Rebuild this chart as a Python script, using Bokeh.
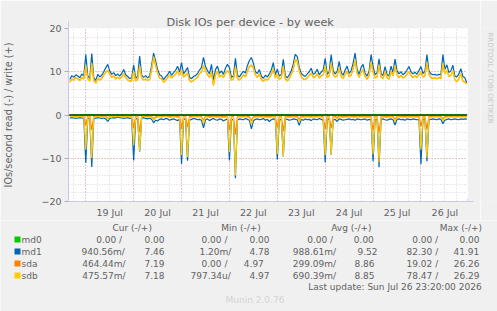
import math
import pandas as pd
from bokeh.plotting import figure
from bokeh.layouts import column, row
from bokeh.models import Range1d, FixedTicker, DatetimeTickFormatter, Span, Arrow, NormalHead
from bokeh.embed import file_html
from bokeh.resources import INLINE
from bokeh.core.properties import value

FONT = "DejaVu Sans"
TEXT = "#626262"
AXIS = "#C8C8EC"

# hourly samples from Jul 18 16:00 to Jul 26 23:00 (200 points)
times = pd.date_range("2026-07-18 16:00", periods=200, freq="h")

# writes (+), IOs/second
md1_write = (
    [8.2, 9.1, 8.7, 9.3, 9.0, 8.6, 9.5, 9.0]
    + [14.0, 9.0, 8.5, 14.2, 8.6, 8.0, 9.4, 8.8, 9.2, 10.0, 10.9, 11.7, 10.2, 9.4, 9.8, 9.1, 9.5, 9.0, 9.6, 10.5, 9.3, 8.9, 8.4, 8.6]
    + [11.6, 8.5, 9.0, 13.6, 9.2, 8.7, 9.1, 8.6, 9.0, 11.5, 14.3, 12.5, 10.5, 9.3, 9.0, 8.2, 8.8, 9.3, 10.1, 9.2, 9.8, 10.3, 11.3, 9.9]
    + [12.1, 9.5, 10.2, 11.0, 8.7, 8.4, 8.9, 9.1, 9.6, 10.4, 11.0, 13.3, 11.2, 10.3, 9.5, 11.7, 8.0, 10.5, 11.3, 9.6, 10.2, 9.4, 10.8, 11.7]
    + [11.0, 8.7, 9.0, 13.1, 9.2, 8.8, 9.5, 10.1, 9.7, 11.4, 12.6, 13.3, 12.0, 10.0, 9.6, 10.5, 9.0, 8.5, 9.2, 8.8, 9.5, 10.4, 12.1, 9.3]
    + [10.6, 9.0, 9.4, 12.9, 9.1, 8.6, 9.3, 10.2, 11.8, 14.0, 13.5, 11.0, 9.6, 9.2, 8.9, 9.5, 10.0, 10.8, 9.4, 9.7, 10.6, 9.3, 9.9, 10.4]
    + [13.1, 9.4, 10.0, 14.0, 10.3, 9.5, 10.1, 12.4, 9.8, 9.2, 10.4, 11.3, 9.6, 10.2, 12.0, 14.3, 10.5, 9.4, 11.0, 11.7, 9.6, 9.0, 10.1, 14.0]
    + [11.2, 9.3, 9.8, 13.0, 9.6, 9.1, 11.2, 9.4, 9.0, 11.3, 9.8, 12.9, 10.2, 9.5, 10.0, 9.3, 9.7, 10.4, 11.2, 10.0, 9.5, 9.9, 9.4, 10.3]
    + [11.2, 9.6, 10.1, 14.0, 10.2, 9.5, 9.3, 9.4, 9.2, 9.4, 9.3, 14.0, 10.5, 11.6, 9.8, 10.2, 11.5, 9.0, 8.8, 9.5, 10.7, 8.9, 8.6, 7.46]
)
sdb_write = (
    [7.5, 8.4, 8.0, 8.7, 8.3, 7.9, 8.8, 8.4]
    + [11.5, 8.3, 7.8, 12.0, 7.9, 7.3, 8.6, 8.0, 8.5, 9.2, 9.9, 10.4, 9.4, 8.7, 9.0, 8.4, 8.8, 8.3, 8.9, 9.6, 8.6, 8.2, 7.7, 7.9]
    + [10.2, 7.8, 8.3, 11.4, 8.5, 8.0, 8.4, 7.9, 8.3, 10.6, 13.5, 11.6, 9.7, 8.6, 8.3, 7.5, 8.1, 8.6, 9.3, 8.5, 9.0, 9.5, 10.2, 9.1]
    + [10.5, 8.7, 9.3, 9.8, 7.9, 7.6, 8.1, 8.3, 8.8, 9.5, 10.0, 11.5, 10.2, 9.4, 8.6, 10.0, 6.8, 9.4, 10.2, 8.7, 9.3, 8.6, 9.7, 10.3]
    + [9.8, 8.0, 8.3, 11.2, 8.4, 8.0, 8.7, 9.2, 8.9, 10.2, 11.3, 11.6, 11.0, 9.2, 8.8, 9.6, 8.2, 7.7, 8.4, 8.0, 8.7, 9.5, 10.8, 8.5]
    + [9.5, 8.2, 8.6, 11.3, 8.3, 7.8, 8.5, 9.3, 10.7, 12.9, 12.6, 10.1, 8.8, 8.4, 8.1, 8.7, 9.1, 9.8, 8.6, 8.9, 9.6, 8.5, 9.0, 9.4]
    + [11.4, 8.6, 9.1, 12.0, 9.4, 8.7, 9.2, 11.0, 8.9, 8.4, 9.5, 10.2, 8.8, 9.3, 10.8, 12.8, 9.6, 8.6, 10.0, 10.5, 8.8, 8.2, 9.2, 12.3]
    + [10.0, 8.5, 8.9, 11.6, 8.8, 8.3, 10.1, 8.6, 8.2, 10.2, 9.0, 11.4, 9.3, 8.7, 9.1, 8.5, 8.9, 9.5, 10.1, 9.1, 8.7, 9.0, 8.6, 9.4]
    + [10.0, 8.7, 9.2, 12.2, 9.3, 8.6, 8.5, 8.6, 8.4, 8.6, 8.5, 12.0, 9.5, 10.4, 8.9, 9.2, 10.3, 8.1, 7.6, 8.5, 9.6, 7.8, 7.5, 7.18]
)
sda_write = (
    [7.6, 8.3, 8.1, 8.6, 8.4, 8.0, 8.7, 8.3]
    + [11.3, 8.4, 7.9, 11.8, 8.0, 7.4, 8.5, 8.1, 8.4, 9.3, 9.8, 10.3, 9.5, 8.6, 9.1, 8.3, 8.7, 8.4, 8.8, 9.5, 8.7, 8.1, 7.8, 8.0]
    + [10.0, 7.9, 8.2, 11.2, 8.6, 8.1, 8.3, 8.0, 8.2, 10.5, 13.3, 11.5, 9.8, 8.5, 8.4, 7.6, 8.0, 8.7, 9.2, 8.6, 9.1, 9.4, 10.1, 9.2]
    + [10.3, 8.8, 9.2, 9.7, 8.0, 7.7, 8.0, 8.4, 8.7, 9.6, 9.9, 11.3, 10.3, 9.3, 8.7, 9.8, 6.9, 9.3, 10.1, 8.8, 9.2, 8.7, 9.6, 10.2]
    + [9.7, 8.1, 8.2, 11.0, 8.5, 8.1, 8.6, 9.3, 8.8, 10.1, 11.2, 11.5, 10.9, 9.3, 8.7, 9.5, 8.3, 7.8, 8.3, 8.1, 8.6, 9.4, 10.6, 8.6]
    + [9.4, 8.3, 8.5, 11.1, 8.4, 7.9, 8.4, 9.4, 10.6, 12.7, 12.4, 10.2, 8.9, 8.3, 8.2, 8.6, 9.2, 9.7, 8.7, 8.8, 9.5, 8.6, 9.1, 9.3]
    + [11.2, 8.7, 9.0, 11.8, 9.5, 8.8, 9.1, 10.8, 9.0, 8.5, 9.4, 10.1, 8.9, 9.2, 10.7, 12.6, 9.7, 8.7, 9.9, 10.4, 8.9, 8.3, 9.1, 12.1]
    + [9.9, 8.6, 8.8, 11.4, 8.9, 8.4, 10.0, 8.7, 8.3, 10.1, 9.1, 11.2, 9.4, 8.6, 9.2, 8.6, 8.8, 9.4, 10.0, 9.2, 8.6, 9.1, 8.7, 9.3]
    + [9.9, 8.8, 9.1, 12.0, 9.4, 8.7, 8.4, 8.7, 8.3, 8.7, 8.4, 11.8, 9.6, 10.3, 9.0, 9.1, 10.2, 8.2, 7.7, 8.4, 9.5, 7.9, 7.6, 7.19]
)

# reads (-), IOs/second, drawn below zero
md1_read = (
    [0.7, 0.6, 0.7, 0.8, 0.7, 0.6, 0.7, 0.8]
    + [11.1, 0.8, 0.7, 12.0, 0.9, 0.7, 0.6, 0.7, 0.8, 0.7, 0.9, 1.5, 0.8, 0.7, 0.6, 0.7, 0.5, 0.6, 0.7, 0.8, 0.7, 0.6, 0.8, 0.7]
    + [10.5, 0.9, 0.8, 8.5, 0.7, 0.6, 0.8, 0.9, 0.7, 1.0, 1.8, 1.2, 1.4, 1.0, 0.9, 1.1, 0.8, 0.9, 1.2, 1.0, 0.9, 1.1, 1.3, 1.0]
    + [11.3, 1.0, 0.9, 10.6, 1.2, 1.0, 0.8, 0.9, 1.1, 1.0, 1.2, 3.0, 1.1, 0.9, 1.3, 1.0, 0.8, 1.1, 1.2, 0.9, 1.0, 1.4, 1.1, 0.9]
    + [10.5, 1.0, 1.1, 14.6, 1.2, 0.9, 1.0, 1.1, 0.8, 1.0, 1.2, 3.2, 1.4, 1.0, 0.9, 1.1, 1.0, 0.8, 1.2, 1.0, 1.5, 1.1, 0.9, 1.0]
    + [10.3, 1.1, 1.0, 9.6, 0.9, 1.0, 1.2, 1.1, 0.9, 1.0, 1.1, 2.4, 1.0, 1.2, 0.9, 1.1, 1.0, 1.3, 0.9, 1.0, 1.1, 0.8, 1.0, 1.2]
    + [11.0, 1.0, 0.9, 9.2, 1.1, 1.0, 1.5, 0.9, 1.0, 1.2, 1.1, 1.0, 0.9, 1.1, 1.0, 1.2, 0.9, 1.0, 1.1, 1.0, 0.9, 1.2, 1.0, 1.1]
    + [10.7, 1.1, 1.0, 12.1, 1.0, 0.9, 1.1, 1.2, 1.0, 0.9, 1.1, 2.3, 1.0, 0.9, 1.1, 1.0, 1.2, 0.9, 1.0, 1.1, 0.9, 1.0, 1.1, 1.0]
    + [11.4, 1.0, 0.9, 10.7, 1.1, 1.0, 0.9, 1.0, 1.1, 0.9, 1.0, 2.0, 1.2, 1.0, 0.9, 1.1, 1.0, 0.9, 1.0, 1.1, 0.9, 1.0, 0.9, 0.94]
)
sdb_read = (
    [0.4, 0.3, 0.4, 0.5, 0.4, 0.3, 0.4, 0.4]
    + [8.0, 0.5, 0.4, 10.0, 0.5, 0.4, 0.3, 0.4, 0.5, 0.4, 0.5, 1.0, 0.4, 0.3, 0.4, 0.3, 0.4, 0.3, 0.4, 0.5, 0.4, 0.3, 0.4, 0.4]
    + [7.0, 0.5, 0.4, 8.4, 0.4, 0.3, 0.4, 0.5, 0.4, 0.5, 1.2, 0.6, 0.5, 0.4, 0.5, 0.4, 0.3, 0.4, 0.6, 0.5, 0.4, 0.5, 0.6, 0.4]
    + [9.3, 0.5, 0.4, 9.7, 0.6, 0.5, 0.4, 0.4, 0.5, 0.4, 0.6, 2.0, 0.5, 0.4, 0.6, 0.5, 0.4, 0.5, 0.6, 0.4, 0.5, 0.7, 0.5, 0.4]
    + [8.6, 0.5, 0.5, 14.0, 0.6, 0.4, 0.5, 0.5, 0.4, 0.5, 0.6, 2.1, 0.7, 0.5, 0.4, 0.5, 0.5, 0.4, 0.6, 0.5, 0.7, 0.5, 0.4, 0.5]
    + [9.0, 0.5, 0.5, 9.6, 0.4, 0.5, 0.6, 0.5, 0.4, 0.5, 0.5, 1.6, 0.5, 0.6, 0.4, 0.5, 0.5, 0.6, 0.4, 0.5, 0.5, 0.4, 0.5, 0.6]
    + [9.3, 0.5, 0.4, 9.2, 0.5, 0.5, 1.0, 0.4, 0.5, 0.6, 0.5, 0.5, 0.4, 0.5, 0.5, 0.6, 0.4, 0.5, 0.5, 0.5, 0.4, 0.6, 0.5, 0.5]
    + [9.1, 0.5, 0.5, 11.0, 0.5, 0.4, 0.5, 0.6, 0.5, 0.4, 0.5, 1.5, 0.5, 0.4, 0.5, 0.5, 0.6, 0.4, 0.5, 0.5, 0.4, 0.5, 0.5, 0.5]
    + [8.0, 0.5, 0.4, 9.9, 0.5, 0.5, 0.4, 0.5, 0.5, 0.4, 0.5, 1.3, 0.6, 0.5, 0.4, 0.5, 0.5, 0.4, 0.5, 0.5, 0.4, 0.5, 0.4, 0.48]
)
sda_read = (
    [0.3, 0.2, 0.3, 0.3, 0.2, 0.3, 0.3, 0.2]
    + [2.4, 0.3, 0.2, 3.5, 0.3, 0.2, 0.3, 0.2, 0.3, 0.2, 0.3, 0.8, 0.3, 0.2, 0.3, 0.2, 0.3, 0.2, 0.3, 0.3, 0.2, 0.3, 0.2, 0.3]
    + [3.0, 0.3, 0.2, 4.0, 0.3, 0.2, 0.3, 0.3, 0.2, 0.3, 0.9, 0.4, 0.3, 0.2, 0.3, 0.3, 0.2, 0.3, 0.4, 0.3, 0.2, 0.3, 0.4, 0.3]
    + [3.2, 0.3, 0.3, 2.8, 0.4, 0.3, 0.2, 0.3, 0.3, 0.2, 0.4, 1.2, 0.3, 0.3, 0.4, 0.3, 0.2, 0.3, 0.4, 0.3, 0.3, 0.4, 0.3, 0.2]
    + [3.5, 0.3, 0.3, 4.5, 0.4, 0.3, 0.3, 0.3, 0.2, 0.3, 0.4, 1.3, 0.4, 0.3, 0.3, 0.3, 0.3, 0.2, 0.4, 0.3, 0.4, 0.3, 0.3, 0.3]
    + [2.9, 0.3, 0.3, 3.8, 0.3, 0.3, 0.4, 0.3, 0.3, 0.3, 0.3, 1.0, 0.3, 0.4, 0.3, 0.3, 0.3, 0.4, 0.3, 0.3, 0.3, 0.2, 0.3, 0.4]
    + [3.3, 0.3, 0.3, 3.1, 0.3, 0.3, 0.7, 0.3, 0.3, 0.4, 0.3, 0.3, 0.3, 0.3, 0.3, 0.4, 0.3, 0.3, 0.3, 0.3, 0.3, 0.4, 0.3, 0.3]
    + [3.6, 0.3, 0.3, 4.2, 0.3, 0.3, 0.3, 0.4, 0.3, 0.3, 0.3, 1.0, 0.3, 0.3, 0.3, 0.3, 0.4, 0.3, 0.3, 0.3, 0.3, 0.3, 0.3, 0.3]
    + [2.7, 0.3, 0.3, 3.4, 0.3, 0.3, 0.3, 0.3, 0.3, 0.3, 0.3, 0.9, 0.4, 0.3, 0.3, 0.3, 0.3, 0.3, 0.3, 0.3, 0.3, 0.3, 0.3, 0.46]
)
md0_write = [0.0] * len(times)
md0_read = [0.0] * len(times)

# legend table
names = ["md0", "md1", "sda", "sdb"]
colors = ["#00CC00", "#0066B3", "#FF8000", "#FFCC00"]
cur_read = ["0.00 /", "940.56m/", "464.44m/", "475.57m/"]
cur_write = ["0.00", "7.46", "7.19", "7.18"]
min_read = ["0.00 /", "1.20m/", "0.00 /", "797.34u/"]
min_write = ["0.00", "4.78", "4.97", "4.97"]
avg_read = ["0.00 /", "988.61m/", "299.09m/", "690.39m/"]
avg_write = ["0.00", "9.52", "8.86", "8.85"]
max_read = ["0.00 /", "82.30 /", "19.02 /", "78.47 /"]
max_write = ["0.00", "41.91", "26.26", "26.29"]
headers = ["Cur (-/+)", "Min (-/+)", "Avg (-/+)", "Max (-/+)"]

series = [
    (md0_read, md0_write, colors[0]),
    (md1_read, md1_write, colors[1]),
    (sda_read, sda_write, colors[2]),
    (sdb_read, sdb_write, colors[3]),
]

t_start = pd.Timestamp("2026-07-18 15:20")
t_end = pd.Timestamp("2026-07-26 23:20")
ms = lambda t: pd.Timestamp(t).value / 1e6
noons = [ms(f"2026-07-{d} 12:00") for d in range(19, 27)]
midnights = [ms(f"2026-07-{d} 00:00") for d in range(19, 27)]
quarters = [ms(t) for t in pd.date_range("2026-07-18 18:00", "2026-07-26 18:00", freq="6h")]

CH = 220  # chart height in pixels
p = figure(width=480, height=CH, x_axis_type="datetime",
           x_range=Range1d(t_start, t_end), y_range=Range1d(-20, 20),
           output_backend="svg", toolbar_location=None,
           min_border_left=67, min_border_right=13, min_border_top=28, min_border_bottom=CH - 203)
p.border_fill_color = "#F0F0F0"
p.background_fill_color = "white"
p.outline_line_color = None

p.title.text = "Disk IOs per device - by week"
p.title.text_font = FONT
p.title.text_font_size = "11.3px"
p.title.text_font_style = "normal"
p.title.text_color = TEXT
p.title.align = "left"
p.title.offset = 98
p.title.standoff = 0

# axes
p.xaxis.ticker = FixedTicker(ticks=noons)
p.xaxis.formatter = DatetimeTickFormatter(days="%d %b", hours="%d %b", months="%d %b", minutes="%d %b")
p.yaxis.ticker = FixedTicker(ticks=[-20, -10, 0, 10, 20], minor_ticks=list(range(-20, 21, 2)))
for ax in (p.xaxis[0], p.yaxis[0]):
    ax.axis_line_color = AXIS
    ax.major_label_text_font = FONT
    ax.major_label_text_font_size = "9.5px"
    ax.major_label_text_color = TEXT
    ax.minor_tick_line_color = None
    ax.major_tick_in = 0
p.xaxis.major_tick_out = 0
p.xaxis.major_label_standoff = 5
p.yaxis.major_tick_out = 4
p.yaxis.major_tick_line_color = "#B0B0B0"
p.yaxis.major_label_standoff = 3
p.yaxis.axis_label = "IOs/second read (-) / write (+)"
p.yaxis.axis_label_text_font = FONT
p.yaxis.axis_label_text_font_size = "9.7px"
p.yaxis.axis_label_text_font_style = "normal"
p.yaxis.axis_label_text_color = TEXT
p.yaxis.axis_label_standoff = 24

# grid: days in red, 6 hours in grey; 10s in red, 2s in grey
p.xgrid.ticker = FixedTicker(ticks=midnights, minor_ticks=quarters)
for g in (p.xgrid[0], p.ygrid[0]):
    g.grid_line_color = "#E3A0A0"
    g.grid_line_dash = "1 2"
    g.minor_grid_line_color = "#D2D2D2"
    g.minor_grid_line_dash = "1 2"

for rd, wr, c in series:
    p.line(times, [-v for v in rd], line_color=c, line_width=1.2)
    p.line(times, wr, line_color=c, line_width=1.2)

p.add_layout(Span(location=0, dimension="width", line_color="black", line_width=1))
p.add_layout(Arrow(x_start=t_start, y_start=20, x_end=t_start, y_end=21.6,
                   line_color=AXIS, line_width=1,
                   end=NormalHead(size=6, fill_color=AXIS, line_color=AXIS)))
p.add_layout(Arrow(x_start=t_end, y_start=-20, x_end=t_end + pd.Timedelta(hours=3), y_end=-20,
                   line_color=AXIS, line_width=1,
                   end=NormalHead(size=6, fill_color=AXIS, line_color=AXIS)))

# vertical credit on the right edge
side = figure(width=17, height=CH, x_range=Range1d(0, 17), y_range=Range1d(CH, 0),
              output_backend="svg", toolbar_location=None, min_border=0)
side.axis.visible = False
side.grid.visible = False
side.outline_line_color = None
side.border_fill_color = "#F0F0F0"
side.background_fill_color = "#F0F0F0"
side.text(x=[10], y=[5], text=["RRDTOOL / TOBI OETIKER"], angle=-math.pi / 2,
          text_font=value(FONT), text_font_size="7.1px", text_color="#C8C8C8",
          text_align="left", text_baseline="middle")

# legend table below the chart
leg = figure(width=497, height=311 - CH, x_range=Range1d(0, 497), y_range=Range1d(311, CH),
             output_backend="svg", toolbar_location=None, min_border=0)
leg.axis.visible = False
leg.grid.visible = False
leg.outline_line_color = None
leg.border_fill_color = "#F0F0F0"
leg.background_fill_color = "#F0F0F0"

row_y = [239, 251, 263, 275]
txt = dict(text_font=value(FONT), text_font_size="9px", text_color=TEXT,
           text_align="left", text_baseline="middle")
leg.text(x=[112, 220.7, 330.7, 439.3], y=[227.3] * 4, text=headers, **txt)
leg.rect(x=[17] * 4, y=row_y, width=6, height=6, fill_color=colors, line_color=None)
leg.text(x=[21] * 4, y=row_y, text=names, **txt)
columns = [
    (cur_read, [95.7, 81, 81.7, 81.7]),
    (cur_write, [144, 144, 144, 144]),
    (min_read, [201, 199, 201, 190]),
    (min_write, [249, 249, 243.3, 249]),
    (avg_read, [306.7, 292.3, 292.3, 292.3]),
    (avg_write, [353.3, 357, 354, 354]),
    (max_read, [411.7, 406, 406, 406]),
    (max_write, [459, 453, 453.3, 453.3]),
]
for vals, xs in columns:
    leg.text(x=xs, y=row_y, text=vals, **txt)
leg.text(x=[307.7], y=[286.7], text=["Last update: Sun Jul 26 23:20:00 2026"], **txt)
leg.text(x=[225], y=[299], text=["Munin 2.0.76"],
         text_font=value(FONT), text_font_size="9px", text_color="#D4D4D4",
         text_align="left", text_baseline="middle")

layout = column(row(p, side, spacing=0), leg, spacing=0)
open("out.html", "w").write(file_html(layout, INLINE))
